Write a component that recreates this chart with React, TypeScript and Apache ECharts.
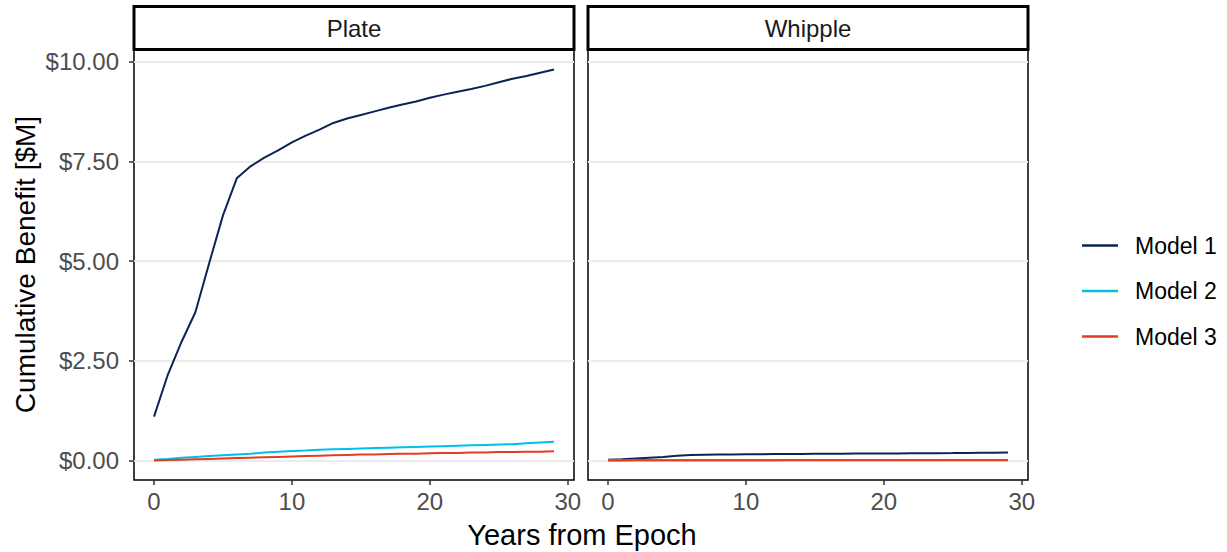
import React, { useEffect, useRef } from "react";
import * as echarts from "echarts";

const years = [0,1,2,3,4,5,6,7,8,9,10,11,12,13,14,15,16,17,18,19,20,21,22,23,24,25,26,27,28,29];
const panels = ["Plate", "Whipple"];
const modelNames = ["Model 1", "Model 2", "Model 3"];
const modelColors = ["#0b2552", "#00bfeb", "#e13d1f"];
const yTicks = [0, 2.5, 5, 7.5, 10];
const xTicks = [0, 10, 20, 30];

const plateModel1 = [1.10,2.15,2.98,3.72,4.95,6.15,7.08,7.38,7.60,7.78,7.98,8.15,8.30,8.47,8.58,8.67,8.76,8.85,8.93,9.01,9.10,9.18,9.25,9.32,9.40,9.49,9.58,9.65,9.73,9.81];
const plateModel2 = [0.02,0.04,0.07,0.09,0.11,0.13,0.15,0.17,0.20,0.22,0.24,0.25,0.27,0.28,0.29,0.30,0.31,0.32,0.33,0.34,0.35,0.36,0.37,0.38,0.39,0.40,0.41,0.43,0.45,0.47];
const plateModel3 = [0.00,0.01,0.02,0.03,0.04,0.05,0.06,0.07,0.08,0.09,0.10,0.11,0.12,0.13,0.14,0.15,0.15,0.16,0.17,0.17,0.18,0.19,0.19,0.20,0.20,0.21,0.21,0.22,0.22,0.23];
const whippleModel1 = [0.02,0.03,0.05,0.07,0.09,0.12,0.14,0.145,0.15,0.152,0.155,0.157,0.16,0.162,0.164,0.166,0.168,0.17,0.172,0.174,0.176,0.178,0.18,0.182,0.184,0.186,0.19,0.193,0.196,0.20];
const whippleModel2 = [0.004,0.004,0.005,0.005,0.006,0.006,0.007,0.007,0.007,0.008,0.008,0.008,0.008,0.009,0.009,0.009,0.009,0.009,0.01,0.01,0.01,0.01,0.01,0.01,0.011,0.011,0.011,0.011,0.011,0.012];
const whippleModel3 = [0.002,0.002,0.003,0.003,0.003,0.004,0.004,0.004,0.004,0.005,0.005,0.005,0.005,0.005,0.005,0.006,0.006,0.006,0.006,0.006,0.006,0.006,0.007,0.007,0.007,0.007,0.007,0.007,0.007,0.007];

const panelData = [
  [plateModel1, plateModel2, plateModel3],
  [whippleModel1, whippleModel2, whippleModel3],
];

const FONT = "Liberation Sans, Arial, sans-serif";

export default function App() {
  const ref = useRef<HTMLDivElement>(null);
  useEffect(() => {
    if (!ref.current) return;
    const chart = echarts.init(ref.current, null, { renderer: "svg" });
    const gridLefts = [134, 588];
    const gridW = 440;
    const gridTop = 50;
    const gridH = 430;

    const grids = gridLefts.map((l) => ({
      left: l, top: gridTop, width: gridW, height: gridH,
      show: true, borderColor: "#000", borderWidth: 1.5, backgroundColor: "transparent",
    }));

    const xAxes = gridLefts.map((_, i) => ({
      type: "value", gridIndex: i, min: -1.45, max: 30.45,
      axisLine: { show: false, onZero: false },
      axisTick: { show: true, length: 5, lineStyle: { color: "#333", width: 1.5 }, customValues: xTicks },
      axisLabel: { show: true, color: "#4d4d4d", fontSize: 24, fontFamily: FONT, margin: 9, customValues: xTicks, formatter: (v: number) => String(v) },
      splitLine: { show: false },
    }));

    const yAxes = gridLefts.map((_, i) => ({
      type: "value", gridIndex: i, min: -0.49, max: 10.3,
      axisLine: { show: false, onZero: false },
      axisTick: { show: i === 0, length: 5, lineStyle: { color: "#333", width: 1.5 }, customValues: yTicks },
      axisLabel: { show: i === 0, color: "#4d4d4d", fontSize: 24, fontFamily: FONT, margin: 15, customValues: yTicks, formatter: (v: number) => "$" + v.toFixed(2) },
      splitLine: { show: true, lineStyle: { color: "#ebebeb", width: 2 } },
    }));

    const series: any[] = [];
    panelData.forEach((models, pi) => {
      models.forEach((vals, mi) => {
        series.push({
          type: "line", name: modelNames[mi], xAxisIndex: pi, yAxisIndex: pi,
          data: years.map((y, k) => [y, vals[k]]),
          showSymbol: false, symbol: "none",
          lineStyle: { color: modelColors[mi], width: 2 },
          itemStyle: { color: modelColors[mi] },
          z: 3 + mi,
        });
      });
    });

    const graphics: any[] = [];
    panels.forEach((p, i) => {
      graphics.push({
        type: "rect", shape: { x: gridLefts[i], y: 6.5, width: gridW, height: 43 },
        style: { fill: "#fff", stroke: "#000", lineWidth: 3 },
      });
      graphics.push({
        type: "text", x: gridLefts[i] + gridW / 2, y: 28.5,
        style: { text: p, fill: "#1a1a1a", font: `24px ${FONT}`, textAlign: "center", textVerticalAlign: "middle" },
      });
    });
    graphics.push({
      type: "text", x: 582, y: 535,
      style: { text: "Years from Epoch", fill: "#000", font: `29px ${FONT}`, textAlign: "center", textVerticalAlign: "middle" },
    });
    graphics.push({
      type: "text", x: 25, y: 264.5, rotation: Math.PI / 2,
      style: { text: "Cumulative Benefit [$M]", fill: "#000", font: `28px ${FONT}`, textAlign: "center", textVerticalAlign: "middle" },
    });

    chart.setOption({
      animation: false,
      backgroundColor: "#fff",
      grid: grids,
      xAxis: xAxes,
      yAxis: yAxes,
      series,
      legend: {
        data: modelNames, orient: "vertical", left: 1077, top: 229,
        icon: "rect", itemWidth: 36, itemHeight: 2.5, itemGap: 22.5,
        textStyle: { color: "#000", fontSize: 23, fontFamily: FONT, padding: [0, 0, 0, 12] },
      },
      graphic: graphics,
    });
    return () => chart.dispose();
  }, []);
  return <div ref={ref} style={{ width: 1227, height: 552, position: "absolute", left: 0, top: 0 }} />;
}
